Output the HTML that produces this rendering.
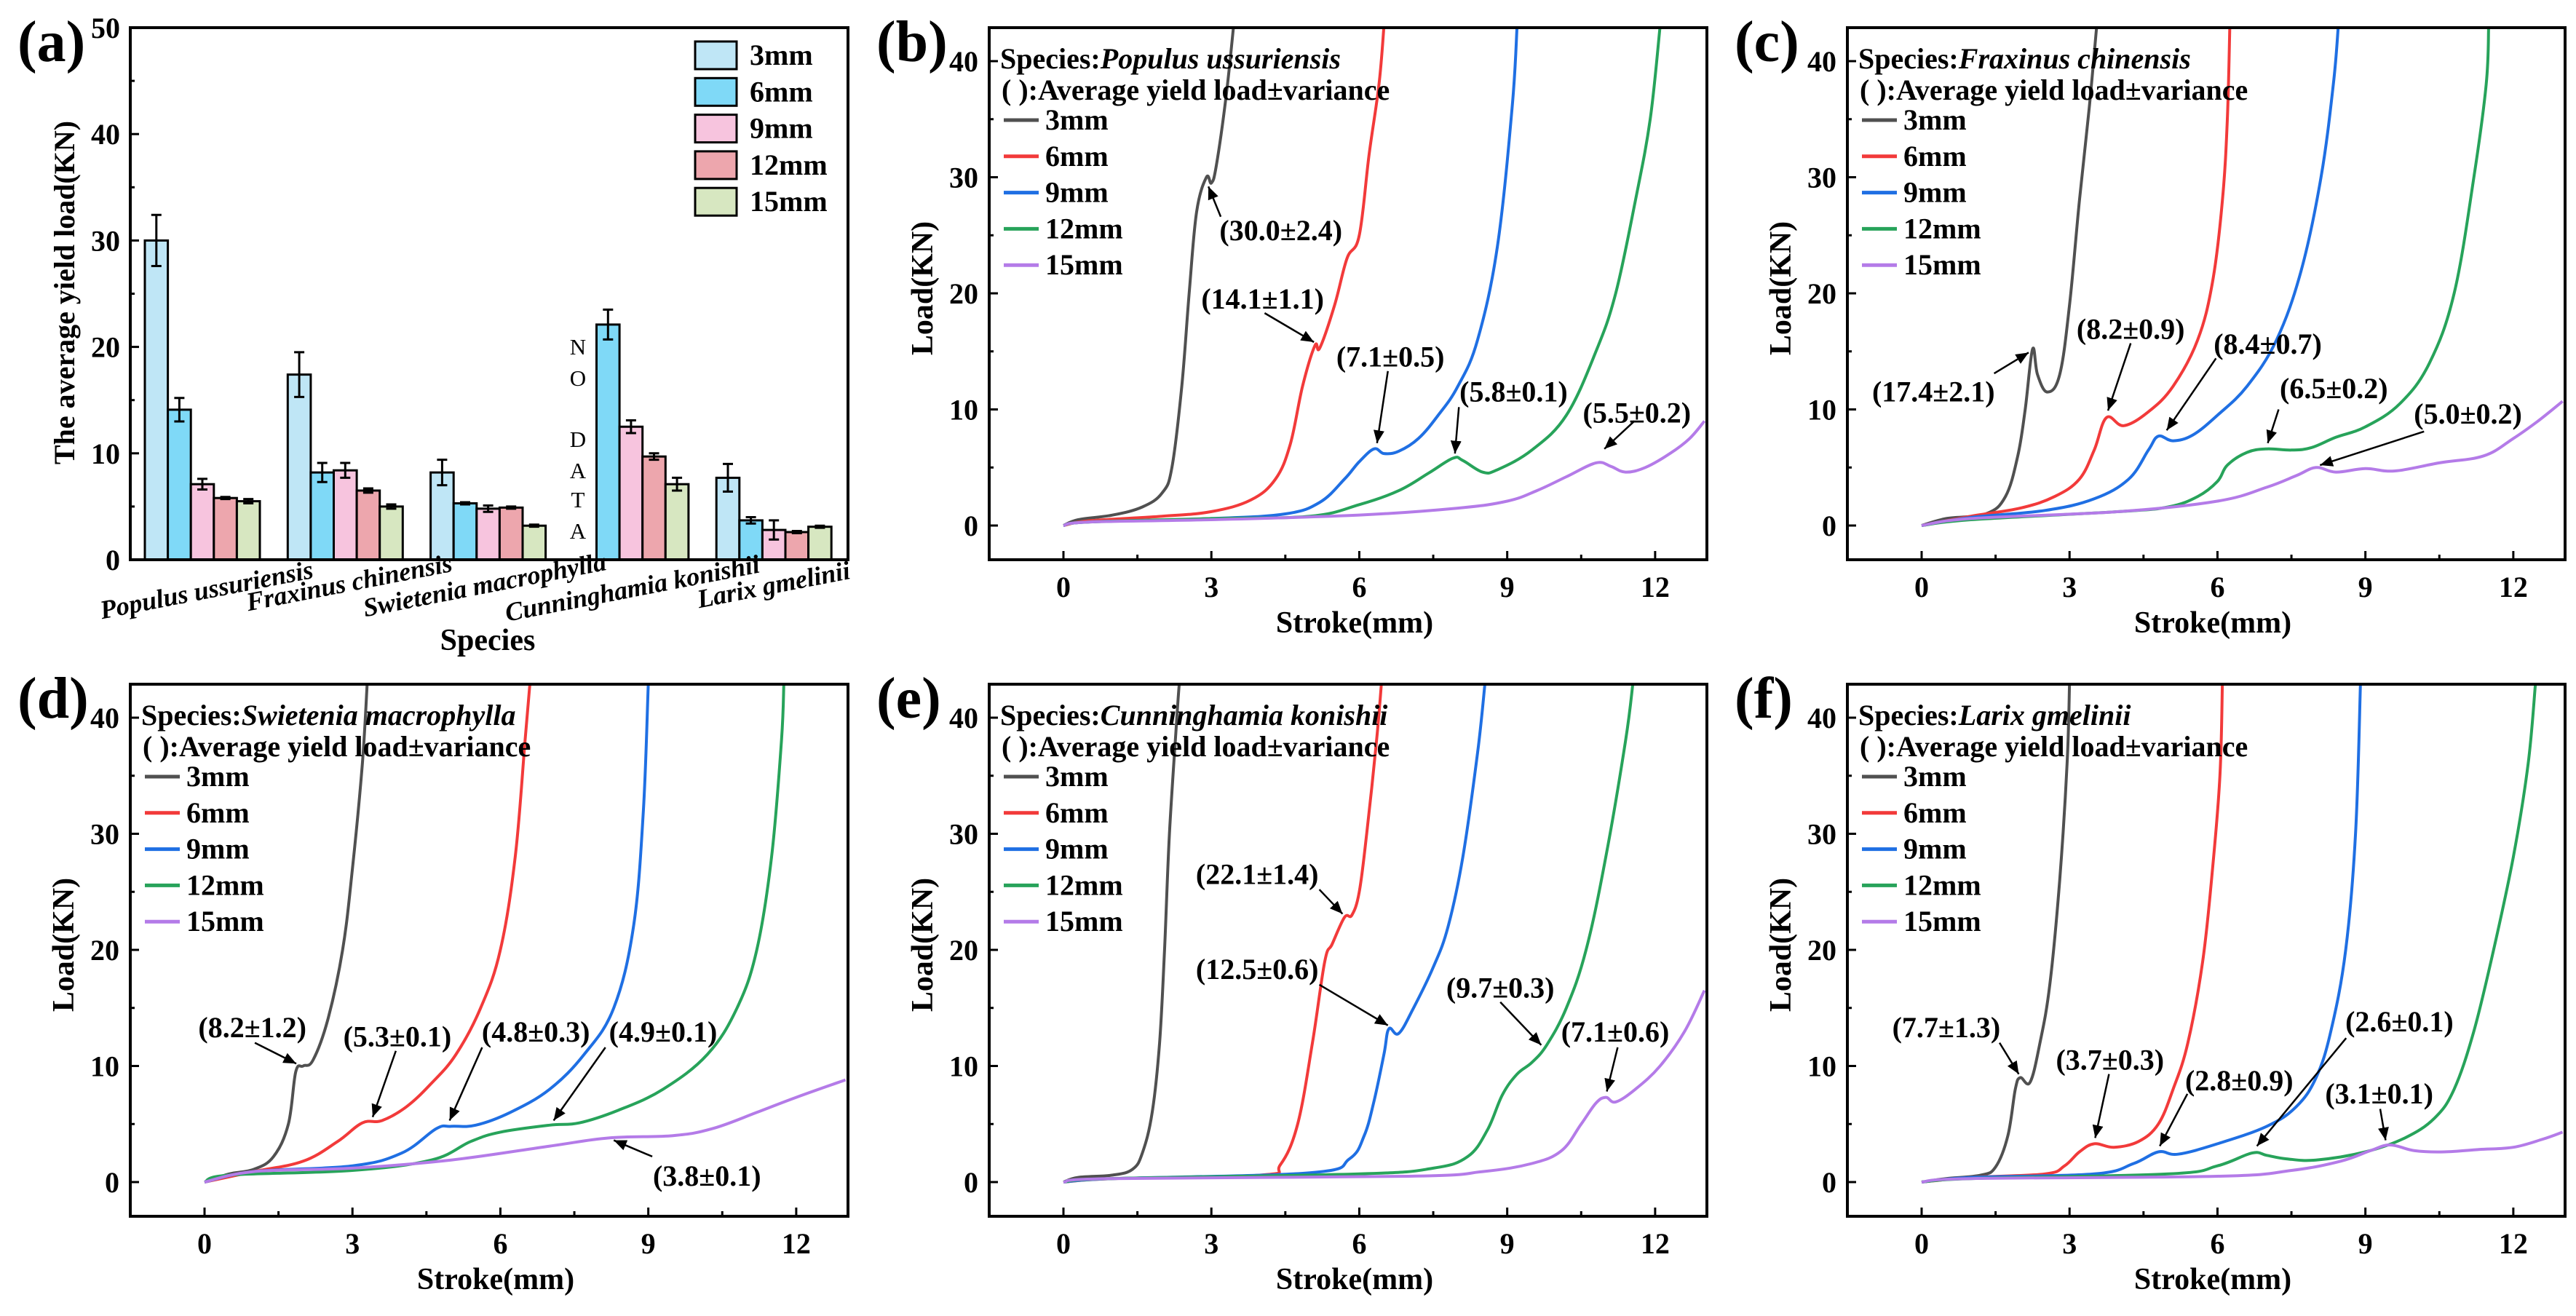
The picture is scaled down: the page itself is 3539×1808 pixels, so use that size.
<!DOCTYPE html>
<html><head><meta charset="utf-8"><style>
html,body{margin:0;padding:0;background:#fff;}
svg{display:block;font-family:"Liberation Serif","Times New Roman",serif;}
text{font-family:"Liberation Serif","Times New Roman",serif;}
</style></head><body>
<svg id="fig" width="3539" height="1808" viewBox="0 0 3539 1808" xmlns="http://www.w3.org/2000/svg"></svg>
<script>
// ---------- Panel (a) data ----------
const species = ["Populus ussuriensis","Fraxinus chinensis","Swietenia macrophylla","Cunninghamia konishii","Larix gmelinii"];
const sizes = ["3mm","6mm","9mm","12mm","15mm"];
const barColors = ["#bfe6f6","#7fd9f7","#f7c4de","#eda6ad","#d7e7c1"];
const yieldMean3 = [30.0,17.4,8.2,null,7.7];
const yieldMean6 = [14.1,8.2,5.3,22.1,3.7];
const yieldMean9 = [7.1,8.4,4.8,12.5,2.8];
const yieldMean12 = [5.8,6.5,4.9,9.7,2.6];
const yieldMean15 = [5.5,5.0,3.2,7.1,3.1];
const yieldErr3 = [2.4,2.1,1.2,null,1.3];
const yieldErr6 = [1.1,0.9,0.1,1.4,0.3];
const yieldErr9 = [0.5,0.7,0.3,0.6,0.9];
const yieldErr12 = [0.1,0.2,0.1,0.3,0.1];
const yieldErr15 = [0.2,0.2,0.1,0.6,0.1];
const barTicks = [0,10,20,30,40,50];
const strokeTicks = [0,3,6,9,12];
const loadTicks = [0,10,20,30,40];

// ---------- Curve data ----------
const pu3=[[0,0],[0.3,0.5],[1,0.9],[1.6,1.6],[2,2.8],[2.2,5],[2.4,12],[2.55,20],[2.7,27],[2.9,30],[3,29.5],[3.1,31],[3.3,37],[3.45,43]];
const pu6=[[0,0],[0.5,0.4],[2,0.8],[3,1.2],[3.8,2.2],[4.3,4],[4.6,7],[4.85,12],[5.1,15.5],[5.2,15.3],[5.5,19],[5.75,23],[6,25],[6.2,32],[6.4,38],[6.5,43]];
const pu9=[[0,0],[0.5,0.3],[3,0.6],[4.5,1],[5.2,2],[5.7,4],[6.0,5.5],[6.3,6.6],[6.5,6.2],[6.8,6.4],[7.2,7.5],[7.6,9.5],[8,12],[8.4,16],[8.8,24],[9.1,36],[9.2,43]];
const pu12=[[0,0],[0.5,0.3],[3,0.6],[5,0.8],[6,1.8],[6.8,3],[7.4,4.5],[7.9,5.8],[8.1,5.6],[8.5,4.6],[8.8,4.8],[9.5,6.5],[10.2,9.5],[10.8,15],[11.2,20],[11.6,28],[11.9,35],[12.1,43]];
const pu15=[[0,0],[0.5,0.3],[3,0.5],[6,0.9],[8,1.5],[9,2.1],[9.6,3],[10.2,4.2],[10.8,5.4],[11.1,5.1],[11.4,4.6],[11.8,5],[12.3,6.2],[12.7,7.5],[13,9]];
const fr3=[[0,0],[0.5,0.6],[1.3,1],[1.7,2.5],[1.95,6],[2.1,10],[2.25,15.2],[2.35,13],[2.55,11.5],[2.8,13],[3.0,19],[3.2,28],[3.4,36],[3.55,43]];
const fr6=[[0,0],[1,0.8],[2,1.5],[2.7,2.5],[3.2,4],[3.5,6.5],[3.75,9.3],[4.1,8.6],[4.6,9.8],[5.1,12],[5.6,16],[5.9,21],[6.1,28],[6.2,35],[6.25,43]];
const fr9=[[0,0],[1,0.7],[2.5,1.3],[3.5,2.3],[4.2,4],[4.6,6.5],[4.8,7.7],[5.1,7.3],[5.5,7.8],[6,9.5],[6.6,12],[7.2,16],[7.7,22],[8.1,30],[8.35,38],[8.45,43]];
const fr12=[[0,0],[1,0.5],[4,1.2],[5,1.6],[5.6,2.5],[6,3.8],[6.2,5.2],[6.6,6.3],[7,6.6],[7.5,6.5],[7.9,6.7],[8.4,7.6],[9,8.5],[9.7,10.5],[10.3,14],[10.8,20],[11.2,30],[11.45,38],[11.5,43]];
const fr15=[[0,0],[1,0.6],[4,1.2],[6,2.1],[7,3.3],[7.6,4.3],[8.0,5.0],[8.4,4.6],[9,4.9],[9.6,4.7],[10.5,5.4],[11.4,6],[12,7.5],[12.5,9],[13,10.7]];
const sw3=[[0,0],[0.5,0.7],[1,1.1],[1.4,2.2],[1.7,5],[1.85,9.5],[2.0,10],[2.2,10.5],[2.5,14],[2.8,20],[3.0,27],[3.2,36],[3.3,43]];
const sw6=[[0,0],[1,0.9],[2,1.8],[2.7,3.5],[3.2,5.1],[3.6,5.3],[4.1,6.5],[4.6,8.5],[5.1,11],[5.6,15],[6.0,20],[6.3,28],[6.5,38],[6.6,43]];
const sw9=[[0,0],[1,0.9],[3,1.4],[4,2.5],[4.7,4.6],[5.0,4.8],[5.5,4.9],[6.2,6],[7,8],[7.7,11],[8.3,15],[8.7,22],[8.9,32],[9.0,43]];
const sw12=[[0,0],[0.5,0.6],[3,1],[4.6,1.9],[5.4,3.5],[6.0,4.3],[7.0,4.9],[7.6,5.1],[8.4,6.2],[9.3,8],[10.2,11],[10.8,15],[11.2,20],[11.5,28],[11.7,38],[11.75,43]];
const sw15=[[0,0],[1,0.9],[3,1.2],[5,1.9],[7,3.1],[8.2,3.8],[9.5,4.0],[10.3,4.6],[11.2,6],[12,7.3],[13,8.8]];
const cu3=[[0,0],[0.3,0.4],[1.0,0.6],[1.4,1.1],[1.6,2.5],[1.8,6],[1.95,12],[2.05,20],[2.15,30],[2.3,40],[2.35,43]];
const cu6=[[0,0],[1,0.3],[4,0.6],[4.4,1.5],[4.75,5],[5.05,12],[5.3,19],[5.45,20.5],[5.7,22.8],[5.85,23],[6.0,25],[6.15,30],[6.35,38],[6.45,43]];
const cu9=[[0,0],[1,0.3],[5,0.8],[5.8,2],[6.1,4],[6.3,7],[6.5,11],[6.6,13.2],[6.8,12.8],[7.1,15],[7.5,18.5],[7.8,22],[8.1,28],[8.4,37],[8.55,43]];
const cu12=[[0,0],[1,0.3],[6,0.7],[7.5,1.2],[8.2,2.2],[8.6,4.5],[8.9,7.5],[9.2,9.3],[9.5,10.3],[9.8,11.8],[10.2,15],[10.6,20],[11.0,28],[11.4,38],[11.55,43]];
const cu15=[[0,0],[1,0.3],[7,0.5],[8.5,0.9],[9.5,1.6],[10.1,2.7],[10.5,5],[10.8,6.8],[11.0,7.3],[11.2,6.9],[11.6,8],[12.1,10],[12.6,13],[13,16.5]];
const la3=[[0,0],[0.5,0.3],[1.2,0.6],[1.5,1.3],[1.75,4],[1.9,8],[2.0,9],[2.2,8.6],[2.4,12],[2.6,17],[2.8,26],[2.95,36],[3.0,43]];
const la6=[[0,0],[1,0.4],[2.5,0.7],[2.9,1.4],[3.2,2.6],[3.5,3.3],[3.9,3.0],[4.4,3.5],[4.8,5],[5.1,8],[5.4,12],[5.7,19],[5.9,27],[6.05,35],[6.1,43]];
const la9=[[0,0],[1,0.4],[3.5,0.7],[4.3,1.6],[4.8,2.6],[5.2,2.4],[6.0,3.3],[7,4.8],[7.6,6.5],[8,9],[8.3,13],[8.6,20],[8.8,30],[8.9,43]];
const la12=[[0,0],[1,0.3],[5,0.7],[6,1.4],[6.7,2.5],[7.0,2.3],[7.4,2.0],[8.0,1.9],[9,2.6],[9.8,3.8],[10.4,5.5],[10.8,8],[11.2,13],[11.6,20],[12.0,28],[12.3,36],[12.45,43]];
const la15=[[0,0],[1,0.3],[6,0.5],[7.5,1],[8.5,1.8],[9.1,2.7],[9.5,3.2],[10.0,2.7],[10.6,2.6],[11.3,2.8],[12,3],[12.6,3.7],[13,4.3]];

// annotations: [label, textX, textY, arrowFromX, arrowFromY, arrowToX, arrowToY] (data units)
const puNotes=[["(30.0±2.4)",4.41,25.4,3.19,26.6,2.94,29.2],["(14.1±1.1)",4.04,19.5,4.08,18.3,5.08,15.8],["(7.1±0.5)",6.63,14.5,6.58,13.3,6.36,7.1],["(5.8±0.1)",9.13,11.5,8.02,10.2,7.94,6.2],["(5.5±0.2)",11.63,9.7,11.58,9.0,10.97,6.6]];
const frNotes=[["(17.4±2.1)",0.24,11.5,1.47,13.1,2.17,14.9],["(8.2±0.9)",4.24,16.9,4.24,15.7,3.78,9.9],["(8.4±0.7)",7.02,15.6,5.97,14.4,4.97,8.2],["(6.5±0.2)",8.36,11.8,7.24,10.0,7.02,7.1],["(5.0±0.2)",11.08,9.6,10.19,8.1,8.08,5.2]];
const swNotes=[["(8.2±1.2)",0.97,13.3,1.02,12.0,1.86,10.2],["(5.3±0.1)",3.91,12.5,3.88,11.3,3.41,5.6],["(4.8±0.3)",6.72,12.9,5.63,11.6,4.97,5.3],["(4.9±0.1)",9.30,12.9,8.13,11.6,7.08,5.3],["(3.8±0.1)",10.19,0.5,9.08,2.2,8.3,3.6]];
const cuNotes=[["(22.1±1.4)",3.93,26.5,5.19,25.2,5.66,23.1],["(12.5±0.6)",3.93,18.3,5.19,17.0,6.58,13.5],["(9.7±0.3)",8.86,16.7,8.86,15.5,9.69,11.8],["(7.1±0.6)",11.19,12.9,11.24,11.6,11.02,7.8]];
const laNotes=[["(7.7±1.3)",0.5,13.3,1.58,12.0,1.97,9.3],["(3.7±0.3)",3.82,10.5,3.8,9.3,3.52,3.8],["(2.8±0.9)",6.44,8.7,5.39,7.6,4.83,3.1],["(2.6±0.1)",9.69,13.8,8.61,12.4,6.8,3.1],["(3.1±0.1)",9.28,7.6,9.3,6.3,9.41,3.6]];

const lineColors=["#505050","#f23a3a","#1f6fe3","#27a35a","#b47be8"];

const NS="http://www.w3.org/2000/svg";
const FONT='"Liberation Serif","Times New Roman",serif';
const fig=document.getElementById("fig");
function mk(tag,attrs,parent){const e=document.createElementNS(NS,tag);for(const k in attrs)e.setAttribute(k,attrs[k]);(parent||fig).appendChild(e);return e;}
function txt(s,attrs,parent){const e=mk("text",attrs,parent);e.setAttribute("font-family",FONT);e.textContent=s;return e;}
function smooth(P){
  if(P.length<3)return "M"+P.map(p=>p.join(",")).join("L");
  let d="M"+P[0][0].toFixed(1)+","+P[0][1].toFixed(1);
  for(let i=0;i<P.length-1;i++){
    const p0=P[i-1]||P[i],p1=P[i],p2=P[i+1],p3=P[i+2]||p2;
    const t=0.18;
    const c1=[p1[0]+(p2[0]-p0[0])*t,p1[1]+(p2[1]-p0[1])*t];
    const c2=[p2[0]-(p3[0]-p1[0])*t,p2[1]-(p3[1]-p1[1])*t];
    d+="C"+c1.map(v=>v.toFixed(1)).join(",")+" "+c2.map(v=>v.toFixed(1)).join(",")+" "+p2.map(v=>v.toFixed(1)).join(",");
  }
  return d;
}

// arrow marker
const defs=mk("defs",{});
const mkr=mk("marker",{id:"arr",markerWidth:"8",markerHeight:"8",refX:"7",refY:"4",orient:"auto",markerUnits:"strokeWidth"},defs);
mk("path",{d:"M0,1 L7,4 L0,7 Z",fill:"#000"},mkr);

// ---------- Panel (a) ----------
(function(){
  const g=mk("g",{});
  
  
  const L=179,R=1165,T=38,B=769;
  const y=v=>B-(v/50)*(B-T);
  const groupX=i=>199+196.3*i;
  const bw=31.6;
  const means=[yieldMean3,yieldMean6,yieldMean9,yieldMean12,yieldMean15];
  const errs=[yieldErr3,yieldErr6,yieldErr9,yieldErr12,yieldErr15];
  for(let i=0;i<species.length;i++){
    for(let s=0;s<sizes.length;s++){
      const v=means[s][i]; if(v==null)continue;
      const x=groupX(i)+s*bw;
      const r=mk("rect",{x:x,y:y(v),width:bw,height:B-y(v),fill:barColors[s],stroke:"#000","stroke-width":3},g);
      
      
      const e=errs[s][i], cx=x+bw/2;
      const eb=mk("path",{d:`M${cx},${y(v+e)}V${y(v-e)}M${cx-7},${y(v+e)}H${cx+7}M${cx-7},${y(v-e)}H${cx+7}`,stroke:"#000","stroke-width":3,fill:"none"},g);
      
      
    }
  }
  const fr=mk("rect",{x:L,y:T,width:R-L,height:B-T,fill:"none",stroke:"#000","stroke-width":4},g);
  
  
  for(let v=0;v<=50;v+=5){
    const major=v%10===0;
    mk("line",{x1:L,x2:L+(major?12:6),y1:y(v),y2:y(v),stroke:"#000","stroke-width":3},g);
  }
  barTicks.forEach(v=>{
    const t=txt(String(v),{x:L-14,y:y(v)+14,"text-anchor":"end","font-size":40,"font-weight":"bold"},g);
    
    
  });
  const labelPos=[[286,822],[482,812],[668,815],[871,820],[1065,815]];
  species.forEach((s,i)=>{
    const [cx,cy]=labelPos[i];
    const t=txt(s,{x:cx,y:cy,"text-anchor":"middle","font-size":36,"font-weight":"bold","font-style":"italic",transform:`rotate(-11 ${cx} ${cy})`},g);
    
    
  });
  const nd=[["N",476],["O",519],["D",603],["A",646],["T",686],["A",729]];
  nd.forEach(([c,yy])=>{
    const t=txt(c,{x:794,y:yy+11,"text-anchor":"middle","font-size":31},g);
    
    
  });
  const yt=txt("The average yield load(KN)",{x:0,y:0,"text-anchor":"middle","font-size":40,"font-weight":"bold",transform:"translate(102 402) rotate(-90)"},g);
  
  
  const xt=txt("Species",{x:670,y:893,"text-anchor":"middle","font-size":42,"font-weight":"bold"},g);
  
  
  sizes.forEach((s,i)=>{
    const cy=76+50.3*i;
    const r=mk("rect",{x:955,y:cy-19,width:57,height:38,fill:barColors[i],stroke:"#000","stroke-width":3},g);
    
    
    const t=txt(s,{x:1030,y:cy+13,"font-size":40,"font-weight":"bold"},g);
    
    
  });
  const pl=txt("(a)",{x:24,y:84,"font-size":80,"font-weight":"bold"},g);
  
  
})();

// ---------- Line panels ----------
function linePanel(key,letter,spName,ox,oy,series,notes){
  const g=mk("g",{});
  
  
  const L=ox+179,R=ox+1165,T=oy+38,B=oy+769;
  const xs=v=>ox+281+v*67.74;
  const ys=v=>oy+722-v*15.95;
  const clip=mk("clipPath",{id:"clip"+key},defs);
  mk("rect",{x:L,y:T,width:R-L,height:B-T},clip);
  const cg=mk("g",{"clip-path":`url(#clip${key})`},g);
  series.forEach((pts,i)=>{
    const d=smooth(pts.map(p=>[xs(p[0]),ys(p[1])]));
    const p=mk("path",{d:d,fill:"none",stroke:lineColors[i],"stroke-width":4,"stroke-linejoin":"round"},cg);
    
    
  });
  const fr=mk("rect",{x:L,y:T,width:R-L,height:B-T,fill:"none",stroke:"#000","stroke-width":4},g);
  
  
  for(let v=0;v<=42;v+=5){
    const major=v%10===0;
    mk("line",{x1:L,x2:L+(major?12:6),y1:ys(v),y2:ys(v),stroke:"#000","stroke-width":3},g);
  }
  for(let v=0;v<=13;v+=1.5){
    const major=v%3===0;
    mk("line",{x1:xs(v),x2:xs(v),y1:B,y2:B-(major?12:7),stroke:"#000","stroke-width":3},g);
  }
  loadTicks.forEach(v=>{
    const t=txt(String(v),{x:L-15,y:ys(v)+14,"text-anchor":"end","font-size":40,"font-weight":"bold"},g);
    
    
  });
  strokeTicks.forEach(v=>{
    const t=txt(String(v),{x:xs(v),y:oy+820,"text-anchor":"middle","font-size":40,"font-weight":"bold"},g);
    
    
  });
  const yt=txt("Load(KN)",{x:0,y:0,"text-anchor":"middle","font-size":42,"font-weight":"bold",transform:`translate(${ox+101} ${oy+396}) rotate(-90)`},g);
  
  
  const xt=txt("Stroke(mm)",{x:ox+681,y:oy+869,"text-anchor":"middle","font-size":42,"font-weight":"bold"},g);
  
  
  const st=txt("Species:",{x:ox+194,y:oy+94,"font-size":40,"font-weight":"bold"},g);
  
  
  const sp=mk("tspan",{"font-style":"italic"},st); sp.textContent=spName;
  const st2=txt("( ):Average yield load±variance",{x:ox+196,y:oy+137,"font-size":40,"font-weight":"bold"},g);
  
  
  sizes.forEach((s,i)=>{
    const cy=oy+165+49.8*i;
    const l=mk("line",{x1:ox+199,x2:ox+247,y1:cy,y2:cy,stroke:lineColors[i],"stroke-width":5},g);
    
    
    const t=txt(s,{x:ox+256,y:cy+13,"font-size":40,"font-weight":"bold"},g);
    
    
  });
  notes.forEach(n=>{
    const t=txt(n[0],{x:xs(n[1]),y:ys(n[2])+13,"text-anchor":"middle","font-size":40,"font-weight":"bold"},g);
    
    
    const a=mk("line",{x1:xs(n[3]),y1:ys(n[4]),x2:xs(n[5]),y2:ys(n[6]),stroke:"#000","stroke-width":2.5,"marker-end":"url(#arr)"},g);
    
    
  });
  const pl=txt("("+letter+")",{x:ox+24,y:oy+84,"font-size":80,"font-weight":"bold"},g);
  
  
}
linePanel("b","b","Populus ussuriensis",1180,0,[pu3,pu6,pu9,pu12,pu15],puNotes);
linePanel("c","c","Fraxinus chinensis",2359,0,[fr3,fr6,fr9,fr12,fr15],frNotes);
linePanel("d","d","Swietenia macrophylla",0,902,[sw3,sw6,sw9,sw12,sw15],swNotes);
linePanel("e","e","Cunninghamia konishii",1180,902,[cu3,cu6,cu9,cu12,cu15],cuNotes);
linePanel("f","f","Larix gmelinii",2359,902,[la3,la6,la9,la12,la15],laNotes);
</script>
</body></html>
